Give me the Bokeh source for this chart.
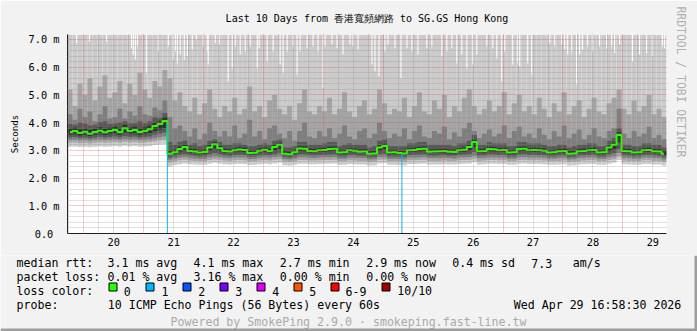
from bokeh.plotting import figure
from bokeh.layouts import column
from bokeh.models import (Range1d, FixedTicker, CustomJSTickFormatter, Grid, Title)
from bokeh.core.properties import value
from bokeh.embed import file_html
from bokeh.resources import INLINE

# ---------------- data ----------------
T_START = 19.728          # left edge of graph, day of April
COL_DAYS = 2 / 24         # one consolidated column = 2 hours
DAYS_SHOWN = 10
Y_MAX = 7.18              # upper limit of the value axis (ms)

median_ms = [
    3.66, 3.70, 3.63, 3.67, 3.60, 3.66, 3.71, 3.65, 3.70, 3.73,
    3.66, 3.80, 3.70, 3.73, 3.66, 3.70, 3.76, 3.88, 3.95, 4.06,
    2.88, 2.93, 3.05, 3.12, 2.98, 2.96, 2.92, 2.94, 3.10, 3.22,
    3.08, 2.98, 2.96, 3.00, 3.03, 3.01, 2.90, 2.91, 2.99, 3.02,
    2.98, 3.12, 3.20, 2.88, 2.86, 2.93, 3.07, 3.06, 2.98, 2.97,
    3.00, 3.01, 3.05, 3.06, 2.92, 2.93, 3.00, 2.99, 2.95, 2.96,
    2.88, 2.89, 3.10, 3.16, 2.92, 2.93, 2.90, 2.89, 3.00, 3.01,
    3.05, 3.06, 2.95, 2.96, 2.97, 2.98, 2.95, 2.94, 3.00, 3.02,
    3.12, 3.30, 2.97, 2.98, 3.05, 3.04, 3.00, 3.01, 2.92, 2.93,
    3.05, 3.06, 3.00, 3.01, 3.00, 2.99, 2.92, 2.93, 2.97, 2.98,
    2.88, 2.89, 2.97, 2.98, 3.00, 3.01, 2.92, 2.93, 3.10, 3.20,
    3.55, 2.98, 2.97, 2.92, 2.93, 3.00, 3.01, 2.97, 2.96, 2.88]

ping9_ms = [
    5.2, 4.6, 5.4, 5.0, 5.6, 4.8, 5.3, 5.7, 4.9, 5.1,
    5.5, 4.7, 5.4, 5.0, 5.8, 5.2, 4.9, 5.5, 5.3, 5.9,
    5.6, 4.8, 5.1, 4.6, 4.4, 4.9, 4.3, 4.7, 5.2, 4.5,
    4.2, 4.6, 4.4, 4.9, 4.3, 4.5, 5.3, 4.4, 4.6, 4.2,
    4.8, 5.0, 4.5, 4.3, 4.6, 4.1, 4.7, 5.2, 4.4, 4.3,
    4.6, 4.4, 4.9, 4.3, 4.5, 5.1, 4.4, 4.2, 4.6, 4.8,
    4.3, 4.5, 5.2, 4.7, 4.3, 4.5, 4.4, 4.9, 4.2, 4.6,
    5.1, 4.4, 4.3, 4.8, 4.5, 5.0, 4.2, 4.6, 4.4, 4.9,
    5.2, 4.6, 4.3, 4.5, 4.8, 4.4, 4.6, 5.1, 4.3, 4.7,
    5.0, 4.4, 4.6, 4.3, 4.9, 4.5, 4.2, 4.7, 4.4, 5.1,
    4.3, 4.6, 4.8, 4.2, 4.5, 4.9, 4.4, 4.3, 4.7, 4.9,
    5.2, 4.5, 4.3, 4.8, 4.4, 4.6, 5.0, 4.3, 4.5, 4.2]

ping8_ms = [
    4.30, 4.10, 4.50, 4.20, 4.40, 4.05, 4.30, 4.60, 4.15, 4.20,
    4.50, 4.15, 4.40, 4.25, 4.60, 4.30, 4.25, 4.55, 4.45, 4.80,
    4.20, 3.80, 3.90, 3.70, 3.50, 3.80, 3.40, 3.60, 4.00, 3.70,
    3.50, 3.70, 3.50, 3.90, 3.45, 3.60, 4.10, 3.50, 3.70, 3.40,
    3.80, 3.90, 3.60, 3.45, 3.70, 3.35, 3.70, 4.00, 3.50, 3.45,
    3.70, 3.50, 3.80, 3.45, 3.60, 3.90, 3.50, 3.40, 3.70, 3.80,
    3.45, 3.60, 4.00, 3.70, 3.45, 3.60, 3.50, 3.80, 3.40, 3.70,
    3.90, 3.50, 3.45, 3.70, 3.60, 3.85, 3.40, 3.65, 3.50, 3.80,
    4.00, 3.70, 3.45, 3.60, 3.75, 3.50, 3.60, 3.90, 3.45, 3.70,
    3.85, 3.50, 3.60, 3.45, 3.80, 3.55, 3.40, 3.70, 3.50, 3.90,
    3.45, 3.60, 3.75, 3.40, 3.55, 3.80, 3.50, 3.45, 3.70, 3.80,
    4.50, 3.60, 3.45, 3.70, 3.50, 3.60, 3.85, 3.45, 3.55, 3.40]

ping7_ms = [
    3.95, 3.92, 4.00, 3.96, 3.90, 3.92, 4.02, 4.05, 3.95, 3.97,
    4.00, 4.05, 3.97, 3.98, 4.05, 3.98, 4.05, 4.20, 4.18, 4.35,
    3.30, 3.20, 3.30, 3.35, 3.20, 3.25, 3.15, 3.20, 3.35, 3.40,
    3.30, 3.20, 3.20, 3.25, 3.25, 3.20, 3.15, 3.15, 3.20, 3.25,
    3.20, 3.35, 3.40, 3.10, 3.10, 3.15, 3.30, 3.30, 3.20, 3.20,
    3.20, 3.25, 3.30, 3.30, 3.15, 3.20, 3.25, 3.20, 3.20, 3.20,
    3.10, 3.15, 3.35, 3.40, 3.15, 3.15, 3.15, 3.15, 3.25, 3.25,
    3.30, 3.30, 3.20, 3.20, 3.20, 3.20, 3.20, 3.15, 3.25, 3.25,
    3.35, 3.55, 3.20, 3.20, 3.30, 3.25, 3.25, 3.25, 3.15, 3.15,
    3.30, 3.30, 3.25, 3.25, 3.25, 3.20, 3.15, 3.15, 3.20, 3.20,
    3.10, 3.15, 3.20, 3.20, 3.25, 3.25, 3.15, 3.15, 3.35, 3.45,
    3.80, 3.20, 3.20, 3.15, 3.15, 3.25, 3.25, 3.20, 3.20, 3.10]

ping6_ms = [
    3.78, 3.82, 3.76, 3.79, 3.73, 3.78, 3.83, 3.78, 3.82, 3.85,
    3.79, 3.92, 3.82, 3.85, 3.79, 3.83, 3.89, 4.00, 4.07, 4.20,
    2.98, 3.02, 3.14, 3.20, 3.06, 3.05, 3.00, 3.03, 3.19, 3.30,
    3.16, 3.06, 3.04, 3.08, 3.11, 3.09, 2.99, 3.00, 3.07, 3.10,
    3.06, 3.20, 3.28, 2.97, 2.95, 3.01, 3.15, 3.14, 3.06, 3.05,
    3.08, 3.09, 3.13, 3.14, 3.00, 3.01, 3.08, 3.07, 3.03, 3.04,
    2.97, 2.98, 3.18, 3.24, 3.00, 3.01, 2.98, 2.97, 3.08, 3.09,
    3.13, 3.14, 3.03, 3.04, 3.05, 3.06, 3.03, 3.02, 3.08, 3.10,
    3.20, 3.40, 3.05, 3.06, 3.13, 3.12, 3.08, 3.09, 3.00, 3.01,
    3.13, 3.14, 3.08, 3.09, 3.08, 3.07, 3.00, 3.01, 3.05, 3.06,
    2.97, 2.98, 3.05, 3.06, 3.08, 3.09, 3.00, 3.01, 3.18, 3.28,
    3.65, 3.06, 3.05, 3.00, 3.01, 3.08, 3.09, 3.05, 3.04, 2.97]

ping5_ms = [
    3.56, 3.58, 3.54, 3.56, 3.52, 3.56, 3.59, 3.55, 3.58, 3.60,
    3.56, 3.64, 3.58, 3.60, 3.56, 3.58, 3.62, 3.70, 3.74, 3.80,
    2.83, 2.87, 2.96, 3.00, 2.92, 2.90, 2.86, 2.88, 2.99, 3.08,
    2.98, 2.92, 2.90, 2.93, 2.96, 2.94, 2.85, 2.86, 2.93, 2.95,
    2.92, 3.00, 3.06, 2.83, 2.81, 2.87, 2.98, 2.97, 2.92, 2.91,
    2.94, 2.95, 2.97, 2.98, 2.86, 2.87, 2.94, 2.93, 2.90, 2.90,
    2.83, 2.84, 2.99, 3.04, 2.86, 2.87, 2.85, 2.84, 2.94, 2.95,
    2.97, 2.98, 2.90, 2.90, 2.91, 2.92, 2.89, 2.89, 2.94, 2.95,
    3.00, 3.12, 2.91, 2.92, 2.97, 2.96, 2.94, 2.95, 2.86, 2.87,
    2.97, 2.98, 2.94, 2.95, 2.94, 2.93, 2.86, 2.87, 2.91, 2.92,
    2.83, 2.84, 2.91, 2.92, 2.94, 2.95, 2.86, 2.87, 2.99, 3.06,
    3.30, 2.92, 2.91, 2.86, 2.87, 2.94, 2.95, 2.91, 2.90, 2.83]

ping4_ms = [
    3.46, 3.48, 3.45, 3.46, 3.43, 3.46, 3.49, 3.46, 3.48, 3.50,
    3.46, 3.52, 3.48, 3.50, 3.46, 3.48, 3.50, 3.56, 3.60, 3.64,
    2.74, 2.78, 2.84, 2.86, 2.82, 2.80, 2.78, 2.79, 2.85, 2.90,
    2.86, 2.82, 2.80, 2.83, 2.84, 2.83, 2.77, 2.78, 2.82, 2.84,
    2.82, 2.86, 2.90, 2.76, 2.74, 2.78, 2.85, 2.85, 2.82, 2.81,
    2.83, 2.84, 2.85, 2.86, 2.78, 2.78, 2.83, 2.82, 2.80, 2.80,
    2.75, 2.76, 2.86, 2.88, 2.78, 2.78, 2.77, 2.76, 2.83, 2.84,
    2.85, 2.86, 2.80, 2.80, 2.81, 2.82, 2.80, 2.80, 2.83, 2.84,
    2.86, 2.94, 2.81, 2.82, 2.85, 2.85, 2.83, 2.84, 2.78, 2.78,
    2.85, 2.86, 2.83, 2.84, 2.83, 2.82, 2.78, 2.78, 2.81, 2.82,
    2.75, 2.76, 2.81, 2.82, 2.83, 2.84, 2.78, 2.78, 2.85, 2.90,
    3.05, 2.82, 2.81, 2.78, 2.78, 2.83, 2.84, 2.81, 2.80, 2.75]

ping3_ms = [
    3.37, 3.38, 3.36, 3.37, 3.35, 3.37, 3.39, 3.37, 3.38, 3.40,
    3.37, 3.41, 3.38, 3.40, 3.37, 3.38, 3.40, 3.44, 3.47, 3.50,
    2.66, 2.70, 2.74, 2.76, 2.73, 2.71, 2.70, 2.70, 2.75, 2.78,
    2.76, 2.73, 2.72, 2.74, 2.75, 2.74, 2.69, 2.70, 2.73, 2.75,
    2.73, 2.76, 2.78, 2.68, 2.67, 2.70, 2.75, 2.75, 2.73, 2.72,
    2.74, 2.75, 2.75, 2.76, 2.70, 2.70, 2.74, 2.73, 2.72, 2.72,
    2.67, 2.68, 2.76, 2.77, 2.70, 2.70, 2.69, 2.68, 2.74, 2.74,
    2.75, 2.76, 2.72, 2.72, 2.72, 2.73, 2.72, 2.71, 2.74, 2.75,
    2.76, 2.80, 2.72, 2.73, 2.75, 2.75, 2.74, 2.74, 2.70, 2.70,
    2.75, 2.76, 2.74, 2.74, 2.74, 2.73, 2.70, 2.70, 2.72, 2.73,
    2.67, 2.68, 2.72, 2.73, 2.74, 2.74, 2.70, 2.70, 2.75, 2.78,
    2.90, 2.73, 2.72, 2.70, 2.70, 2.74, 2.74, 2.72, 2.72, 2.67]

ping2_ms = [
    3.27, 3.28, 3.26, 3.27, 3.25, 3.27, 3.29, 3.27, 3.28, 3.30,
    3.27, 3.31, 3.28, 3.30, 3.27, 3.28, 3.30, 3.33, 3.36, 3.38,
    2.56, 2.60, 2.64, 2.66, 2.63, 2.62, 2.61, 2.61, 2.65, 2.68,
    2.66, 2.63, 2.62, 2.64, 2.65, 2.64, 2.60, 2.61, 2.63, 2.65,
    2.63, 2.66, 2.68, 2.59, 2.58, 2.61, 2.65, 2.65, 2.63, 2.63,
    2.64, 2.65, 2.65, 2.66, 2.61, 2.61, 2.64, 2.63, 2.62, 2.62,
    2.58, 2.59, 2.66, 2.67, 2.61, 2.61, 2.60, 2.59, 2.64, 2.64,
    2.65, 2.66, 2.62, 2.62, 2.62, 2.63, 2.62, 2.62, 2.64, 2.65,
    2.66, 2.70, 2.62, 2.63, 2.65, 2.65, 2.64, 2.64, 2.61, 2.61,
    2.65, 2.66, 2.64, 2.64, 2.64, 2.63, 2.61, 2.61, 2.62, 2.63,
    2.58, 2.59, 2.62, 2.63, 2.64, 2.64, 2.61, 2.61, 2.65, 2.68,
    2.78, 2.63, 2.62, 2.61, 2.61, 2.64, 2.64, 2.62, 2.62, 2.58]

ping1_ms = [
    3.13, 3.14, 3.12, 3.13, 3.11, 3.13, 3.15, 3.13, 3.14, 3.16,
    3.13, 3.17, 3.14, 3.16, 3.13, 3.14, 3.16, 3.19, 3.21, 3.22,
    2.42, 2.47, 2.50, 2.53, 2.50, 2.49, 2.48, 2.48, 2.52, 2.55,
    2.53, 2.50, 2.49, 2.51, 2.52, 2.51, 2.47, 2.48, 2.50, 2.52,
    2.50, 2.53, 2.55, 2.46, 2.45, 2.48, 2.52, 2.52, 2.50, 2.50,
    2.51, 2.52, 2.52, 2.53, 2.48, 2.48, 2.51, 2.50, 2.49, 2.49,
    2.45, 2.46, 2.53, 2.54, 2.48, 2.48, 2.47, 2.46, 2.51, 2.51,
    2.52, 2.53, 2.49, 2.49, 2.49, 2.50, 2.49, 2.49, 2.51, 2.52,
    2.53, 2.57, 2.49, 2.50, 2.52, 2.52, 2.51, 2.51, 2.48, 2.48,
    2.52, 2.53, 2.51, 2.51, 2.51, 2.50, 2.48, 2.48, 2.49, 2.50,
    2.45, 2.46, 2.49, 2.50, 2.51, 2.51, 2.48, 2.48, 2.52, 2.55,
    2.65, 2.50, 2.49, 2.48, 2.48, 2.51, 2.51, 2.49, 2.49, 2.45]

# moments where even the slowest ping stayed below the top of the graph
max_dip_t = [
    19.878, 20.095, 20.378, 20.795, 20.828, 20.861, 20.895, 21.045, 21.245,
    21.411, 21.495, 21.528, 21.561, 21.611, 21.678, 21.728, 21.811, 21.878,
    21.995, 22.061, 22.078, 22.195, 22.261, 22.411, 22.478, 22.528, 22.611,
    22.695, 22.778, 22.895, 22.928, 23.061, 23.161, 23.278, 23.328, 23.395,
    23.495, 23.561, 23.611, 23.728, 23.828, 23.911, 23.995, 24.028,
    24.145, 24.228, 24.328, 24.445, 24.495, 24.578, 24.811, 24.861, 24.928,
    25.028, 25.078, 25.195, 25.295, 25.395, 25.478, 25.578, 25.728, 25.811,
    25.978, 26.061, 26.145, 26.228, 26.311, 26.395, 26.495, 26.561, 26.728,
    26.828, 26.895,
    26.978, 27.028, 27.161, 27.245, 27.278, 27.411, 27.478, 27.778, 27.861,
    27.978, 28.028, 28.078, 28.145, 28.228, 28.278, 28.328, 28.411, 28.495,
    28.611, 28.728, 28.811, 28.861, 28.945, 29.161, 29.278, 29.395, 29.495,
    29.661, 29.695]
max_dip_ms = [
    6.86, 6.93, 6.93, 6.68, 6.46, 6.28, 6.75, 5.78, 6.57,
    6.75, 6.28, 6.57, 6.14, 6.46, 6.28, 6.39, 6.64, 7.00,
    6.75, 6.57, 6.10, 6.86, 6.82, 5.49, 5.96, 6.75, 6.46,
    6.57, 6.75, 5.96, 6.68, 6.21, 6.57, 6.10, 5.78, 6.57,
    6.75, 5.74, 6.57, 6.68, 6.75, 6.57, 5.24, 6.75,
    6.82, 6.68, 6.46, 6.82, 6.75, 6.64, 6.10, 5.85, 5.67,
    6.57, 6.82, 6.68, 5.60, 6.68, 6.57, 6.46, 6.68, 6.75,
    6.39, 6.57, 6.68, 6.14, 6.46, 5.96, 6.10, 6.46, 6.75,
    6.68, 6.32,
    5.49, 6.57, 6.10, 6.14, 6.03, 6.14, 5.74, 6.86, 6.75,
    6.82, 6.64, 6.46, 6.57, 5.38, 6.46, 6.64, 6.75, 6.57,
    6.75, 6.68, 6.75, 6.50, 6.82, 6.21, 6.46, 6.50, 6.39,
    6.75, 6.68]

loss_t = [21.395, 25.310]        # columns with 1 of 10 pings lost
loss_ms = [3.95, 2.88]
loss_count = [1, 1]

day_ticks = [20, 21, 22, 23, 24, 25, 26, 27, 28, 29]
y_ticks_ms = [0, 1, 2, 3, 4, 5, 6, 7]

loss_labels = ["0", "1", "2", "3", "4", "5", "6-9", "10/10"]
loss_colors = ["#26ff00", "#00b8ff", "#0059ff", "#7e00ff", "#dd00ff",
               "#ff5500", "#ff0000", "#a10000"]

title_text = "Last 10 Days from 香港寬頻網路 to SG.GS Hong Kong"
rtt_head = "median rtt:"
rtt_stats = ["3.1 ms avg", "4.1 ms max", "2.7 ms min", "2.9 ms now", "0.4 ms sd", "7.3", "am/s"]
loss_head = "packet loss:"
loss_stats = ["0.01 % avg", "3.16 % max", "0.00 % min", "0.00 % now"]
color_head = "loss color:"
probe_head = "probe:"
probe_text = "10 ICMP Echo Pings (56 Bytes) every 60s"
date_text = "Wed Apr 29 16:58:30 2026"
powered_text = "Powered by SmokePing 2.9.0 · smokeping.fast-line.tw"
watermark_text = "RRDTOOL / TOBI OETIKER"

# ---------------- layout constants ----------------
W = 697
H_TOP = 255               # graph part of the image
H_BOT = 331 - H_TOP       # legend part of the image
FL, FR, FT, FB = 67, 667, 33, 233
X0, X1 = T_START, T_START + DAYS_SHOWN
Y0, Y1 = 0.0, Y_MAX
MONO = "DejaVu Sans Mono"
BACK = "#f2f2f2"

# ---------------- graph ----------------
p = figure(width=W, height=H_TOP, x_range=Range1d(X0, X1), y_range=Range1d(Y0, Y1),
           output_backend="svg", toolbar_location=None,
           min_border_left=FL, min_border_right=W - FR,
           min_border_top=FT, min_border_bottom=H_TOP - FB,
           background_fill_color="white", border_fill_color=BACK,
           outline_line_color=None)

n = len(median_ms)
left = [T_START + i * COL_DAYS for i in range(n)]
right = [v + COL_DAYS for v in left]
centers = [v + COL_DAYS / 2 for v in left]

band_colors = ["#cacaca", "#a4a4a4", "#7e7e7e", "#585858", "#323232"]
lows = [ping1_ms, ping2_ms, ping3_ms, ping4_ms, ping5_ms]
highs = [[Y1] * n, ping9_ms, ping8_ms, ping7_ms, ping6_ms]

p.quad(left=left, right=right, bottom=lows[0], top=highs[0],
       fill_color=band_colors[0], line_color=None)
p.vbar(x=max_dip_t, width=1.1 / 60, bottom=max_dip_ms, top=Y1,
       fill_color="white", line_color=None)
for k in range(1, 5):
    p.quad(left=left, right=right, bottom=lows[k], top=highs[k],
           fill_color=band_colors[k], line_color=None)

p.step(x=centers, y=median_ms, mode="center", line_color=loss_colors[0], line_width=2)
p.segment(x0=loss_t, y0=[0] * len(loss_t), x1=loss_t, y1=loss_ms,
          line_color=[loss_colors[c] for c in loss_count], line_width=1)

# grids (drawn over the smoke, like rrdtool)
p.xgrid.grid_line_color = None
p.ygrid.grid_line_color = None
minor_x = [d + h / 24 for d in range(19, 31) for h in (6, 12, 18) if X0 < d + h / 24 < X1]
minor_y = [k * 0.2 for k in range(1, 36) if k % 5 != 0 and k * 0.2 < Y1]
GREY = "rgba(143,143,143,0.55)"
RED = "rgba(222,79,79,0.6)"
p.add_layout(Grid(dimension=0, ticker=FixedTicker(ticks=minor_x),
                  grid_line_color=GREY, grid_line_dash="1 1", level="guide"))
p.add_layout(Grid(dimension=1, ticker=FixedTicker(ticks=minor_y),
                  grid_line_color=GREY, grid_line_dash="1 1", level="guide"))
p.add_layout(Grid(dimension=0, ticker=FixedTicker(ticks=day_ticks),
                  grid_line_color=RED, grid_line_dash="1 1", level="guide"))
p.add_layout(Grid(dimension=1, ticker=FixedTicker(ticks=y_ticks_ms[1:]),
                  grid_line_color=RED, grid_line_dash="1 1", level="guide"))

# axes
p.xaxis.ticker = FixedTicker(ticks=[d + 0.5 for d in day_ticks])
p.xaxis.formatter = CustomJSTickFormatter(code="return String(Math.floor(tick));")
p.yaxis.ticker = FixedTicker(ticks=y_ticks_ms)
p.yaxis.formatter = CustomJSTickFormatter(
    code="return tick == 0 ? '0.0\\u00a0' : tick.toFixed(1) + ' m';")
for ax in (p.xaxis, p.yaxis):
    ax.axis_line_color = "#1f1f1f"
    ax.major_tick_line_color = None
    ax.minor_tick_line_color = None
    ax.major_tick_out = 0
    ax.major_tick_in = 0
    ax.minor_tick_out = 0
    ax.minor_tick_in = 0
    ax.major_label_text_font = MONO
    ax.major_label_text_font_size = "10.3px"
    ax.major_label_text_color = "black"
p.xaxis.major_label_standoff = 4
p.yaxis.major_label_standoff = 8

# title, unit label and watermark
p.add_layout(Title(text=title_text, text_font=MONO, text_font_size="10px",
                   text_font_style="normal", text_color="black",
                   align="center", offset=-6.5, standoff=21), "above")
p.add_layout(Title(text="Seconds", text_font=MONO, text_font_size="9.2px",
                   text_font_style="normal", text_color="black",
                   align="center", offset=5.5, standoff=12), "left")
p.add_layout(Title(text=watermark_text, text_font=MONO, text_font_size="11.4px",
                   text_font_style="normal", text_color="#b0b0b0",
                   align="left", offset=-28, standoff=15), "right")

# ---------------- legend part ----------------
q = figure(width=W, height=H_BOT, x_range=Range1d(0, W), y_range=Range1d(331, H_TOP),
           output_backend="svg", toolbar_location=None,
           x_axis_location=None, y_axis_location=None,
           min_border=0, min_border_left=0, min_border_right=0,
           min_border_top=0, min_border_bottom=0,
           background_fill_color=BACK, border_fill_color=BACK, outline_line_color=None)
q.xgrid.visible = False
q.ygrid.visible = False
for fig in (p, q):
    try:
        fig.frame_align = False
    except Exception:
        pass

ROWS = [262.7, 276.7, 290.7, 304.7]
stat_x = [107, 193, 279.3, 365.7, 451.7, 530.7, 572.3]
tx, ty, tt = [], [], []
tx.append(16); ty.append(ROWS[0]); tt.append(rtt_head)
for x, s in zip(stat_x, rtt_stats):
    tx.append(x); ty.append(ROWS[0]); tt.append(s)
tx.append(16); ty.append(ROWS[1]); tt.append(loss_head)
for x, s in zip(stat_x, loss_stats):
    tx.append(x); ty.append(ROWS[1]); tt.append(s)
tx.append(16); ty.append(ROWS[2]); tt.append(color_head)
lab_x = [123.3, 161, 197.7, 234.7, 271.7, 308.7, 345, 396.7]
for x, s in zip(lab_x, loss_labels):
    tx.append(x); ty.append(ROWS[2]); tt.append(s)
tx.append(16); ty.append(ROWS[3]); tt.append(probe_head)
tx.append(107.3); ty.append(ROWS[3]); tt.append(probe_text)
tx.append(513.3); ty.append(ROWS[3]); tt.append(date_text)

q.text(x=tx, y=ty, text=tt, text_font=value(MONO), text_font_size="11.6px",
       text_baseline="alphabetic", text_align="left", text_color="black")
q.text(x=[170], y=[321], text=[powered_text], text_font=value(MONO),
       text_font_size="11.6px", text_baseline="alphabetic", text_color="#aaaaaa")

box_x = [108.5, 145.5, 182.5, 219.5, 256.5, 293.5, 330.5, 381.5]
q.quad(left=box_x, right=[b + 8 for b in box_x], top=[282.5] * 8, bottom=[290.5] * 8,
       fill_color=loss_colors, line_color="black", line_width=1)

# window bevel (bottom / right shade)
q.quad(left=[0, 694], right=[697, 697], top=[328, H_TOP], bottom=[331, 331],
       fill_color="#9e9e9e", line_color=None)

open("out.html", "w").write(file_html(column(p, q, spacing=0), INLINE))
